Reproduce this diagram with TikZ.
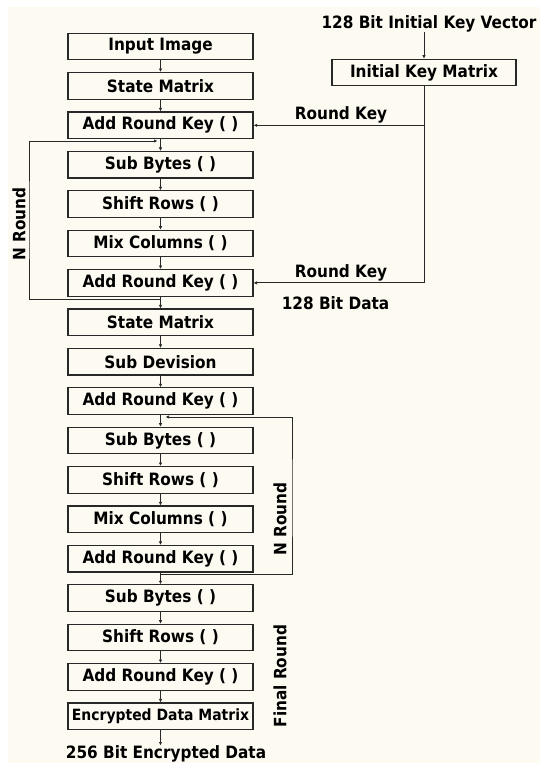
\documentclass[tikz,border=0pt]{standalone}
\usepackage{fontspec}
\newfontfamily\diagfont{DejaVu Sans Condensed}
\usetikzlibrary{arrows.meta,positioning}
\definecolor{bgcream}{RGB}{253,251,241}
\definecolor{linegray}{RGB}{40,40,40}

\begin{document}
\begin{tikzpicture}[x=1pt,y=-1pt,>={Latex[length=3.5pt,width=3.5pt]},
  every node/.style={align=center,font=\fontsize{17}{20}\diagfont\bfseries,inner sep=0pt},
  blk/.style={draw=linegray,line width=1.2pt,minimum width=185pt,minimum height=26.5pt},
  flow/.style={->,linegray,line width=0.9pt}]
  \useasboundingbox (0,0) rectangle (540,763);
  \fill[bgcream] (8,7) rectangle (540,763);

  \node[blk] (inimg) at (160.5,46.5) {Input Image};
  \node[blk] (st1) at (160.5,85.9) {State Matrix};
  \node[blk] (ark1) at (160.5,125.3) {Add Round Key ( )};
  \node[blk] (sb1) at (160.5,164.7) {Sub Bytes ( )};
  \node[blk] (sr1) at (160.5,204.1) {Shift Rows ( )};
  \node[blk] (mc1) at (160.5,243.5) {Mix Columns ( )};
  \node[blk] (ark2) at (160.5,282.9) {Add Round Key ( )};
  \node[blk] (st2) at (160.5,322.3) {State Matrix};
  \node[blk] (sdiv) at (160.5,361.7) {Sub Devision};
  \node[blk] (ark3) at (160.5,401.1) {Add Round Key ( )};
  \node[blk] (sb2) at (160.5,440.5) {Sub Bytes ( )};
  \node[blk] (sr2) at (160.5,479.9) {Shift Rows ( )};
  \node[blk] (mc2) at (160.5,519.3) {Mix Columns ( )};
  \node[blk] (ark4) at (160.5,558.7) {Add Round Key ( )};
  \node[blk] (sb3) at (160.5,598.1) {Sub Bytes ( )};
  \node[blk] (sr3) at (160.5,637.5) {Shift Rows ( )};
  \node[blk] (ark5) at (160.5,676.9) {Add Round Key ( )};
  \node[blk,font=\fontsize{15.5}{18}\diagfont\bfseries] (edm) at (160.5,716.3) {Encrypted Data Matrix};
  \node (out) at (166,754) {256 Bit Encrypted Data};

  \node (kvec) at (429,23.5) {128 Bit Initial Key Vector};
  \node[blk,minimum width=184pt] (ikm) at (424,72.5) {Initial Key Matrix};
  \node (rk1) at (341,115) {Round Key};
  \node (rk2) at (341,272.5) {Round Key};
  \node (data) at (335.5,303.5) {128 Bit Data};
  \node[rotate=90] (nr1) at (19,224) {N Round};
  \node[rotate=90] (nr2) at (280,519) {N Round};
  \node[rotate=90] (fin) at (280,676) {Final Round};

  \coordinate (j1) at (160.5,141);
  \coordinate (j2) at (160.5,299);
  \coordinate (j3) at (160.5,417);
  \coordinate (j4) at (160.5,574);
  \coordinate (lft) at (29,220);
  \coordinate (rgt) at (292,500);

  \draw[flow] (inimg) -- (st1);
  \draw[flow] (st1) -- (ark1);
  \draw[flow] (ark1) -- (sb1);
  \draw[flow] (sb1) -- (sr1);
  \draw[flow] (sr1) -- (mc1);
  \draw[flow] (mc1) -- (ark2);
  \draw[flow] (ark2) -- (st2);
  \draw[flow] (st2) -- (sdiv);
  \draw[flow] (sdiv) -- (ark3);
  \draw[flow] (ark3) -- (sb2);
  \draw[flow] (sb2) -- (sr2);
  \draw[flow] (sr2) -- (mc2);
  \draw[flow] (mc2) -- (ark4);
  \draw[flow] (ark4) -- (sb3);
  \draw[flow] (sb3) -- (sr3);
  \draw[flow] (sr3) -- (ark5);
  \draw[flow] (ark5) -- (edm);
  \draw[flow] (edm.south) -- (edm.south |- out.north);

  \draw[flow] (kvec.south -| ikm.north) -- (ikm.north);
  \draw[flow] (ikm.south) |- (ark1.east);
  \draw[flow] (ikm.south) |- (ark2.east);

  \draw[flow,shorten >=3pt] (j2) -| (lft) |- (j1);
  \draw[flow,shorten >=5pt] (j4) -| (rgt) |- (j3);
\end{tikzpicture}
\end{document}
